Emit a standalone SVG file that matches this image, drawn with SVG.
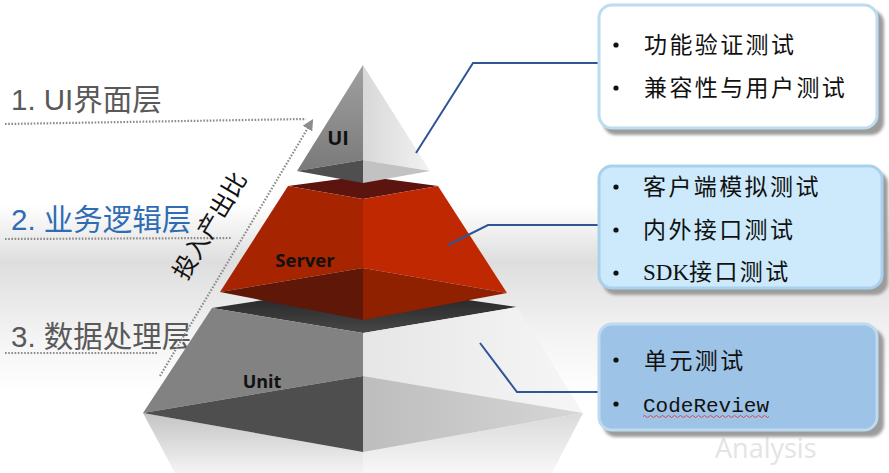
<svg xmlns="http://www.w3.org/2000/svg" width="889" height="473" viewBox="0 0 889 473">
<defs>
<linearGradient id="bg" x1="0" y1="0" x2="0" y2="1">
<stop offset="0" stop-color="#ffffff"/>
<stop offset="0.3" stop-color="#dedede"/>
<stop offset="0.7" stop-color="#f4f4f4"/>
<stop offset="1" stop-color="#ffffff"/>
</linearGradient>
<linearGradient id="uiL" x1="0" y1="0" x2="0" y2="1">
<stop offset="0" stop-color="#a0a0a0"/>
<stop offset="1" stop-color="#7a7a7a"/>
</linearGradient>
<linearGradient id="uiR" x1="0" y1="0" x2="1" y2="0">
<stop offset="0" stop-color="#d8d8d8"/>
<stop offset="1" stop-color="#f2f2f2"/>
</linearGradient>
<linearGradient id="unitTop" x1="0" y1="0" x2="0" y2="1">
<stop offset="0" stop-color="#1e1e1e"/>
<stop offset="1" stop-color="#474747"/>
</linearGradient>
<linearGradient id="unitR" x1="0" y1="0" x2="1" y2="0">
<stop offset="0" stop-color="#e6e6e6"/>
<stop offset="1" stop-color="#f6f6f6"/>
</linearGradient>
<linearGradient id="unitLR" x1="0" y1="0" x2="1" y2="0">
<stop offset="0" stop-color="#bdbdbd"/>
<stop offset="1" stop-color="#d6d6d6"/>
</linearGradient>
<linearGradient id="refL" x1="0" y1="0" x2="0" y2="1">
<stop offset="0" stop-color="#c4c4c4"/>
<stop offset="1" stop-color="#f4f4f4"/>
</linearGradient>
<linearGradient id="refR" x1="0" y1="0" x2="0" y2="1">
<stop offset="0" stop-color="#dadada"/>
<stop offset="1" stop-color="#f8f8f8"/>
</linearGradient>
<filter id="sh" x="-10%" y="-10%" width="130%" height="140%">
<feGaussianBlur stdDeviation="1.5"/>
</filter>
<marker id="arr" viewBox="0 0 10 10" refX="8" refY="5" markerWidth="5" markerHeight="5" orient="auto" markerUnits="strokeWidth">
<path d="M0,0 L10,5 L0,10 z" fill="#8c8c8c"/>
</marker>
</defs>
<style>
.dot{stroke:#8c8c8c;stroke-width:2.2;stroke-dasharray:1.6 1.6;fill:none}
.lbl{font-family:"Liberation Sans","Noto Sans CJK SC",sans-serif;font-size:29.5px}
.tier{font-family:"Open Sans","Liberation Sans",sans-serif;font-weight:bold;fill:#111}
.conn{stroke:#2f5597;stroke-width:2;fill:none}
.btxt{font-family:"Noto Sans CJK SC","Liberation Serif",serif;font-size:23px;fill:#111;letter-spacing:2.4px}
.bul{fill:#111}
.shadow{fill:#9c9c9c;filter:url(#sh)}
</style>
<rect x="0" y="0" width="889" height="473" fill="#ffffff"/>
<rect x="0" y="205" width="889" height="190" fill="url(#bg)"/>
<text x="715" y="458" font-family="'Open Sans','Liberation Sans',sans-serif" font-size="27" fill="#e4e4e4">Analysis</text>

<g id="labels">
<text class="lbl" x="11" y="110" fill="#595959">1. UI界面层</text>
<line class="dot" x1="5" y1="124" x2="306" y2="119"/>
<text class="lbl" x="11" y="230" fill="#2e6db4">2. 业务逻辑层</text>
<line class="dot" x1="5" y1="239" x2="232" y2="238"/>
<text class="lbl" x="11" y="347" fill="#595959">3. 数据处理层</text>
<line class="dot" x1="5" y1="353" x2="158" y2="353"/>
</g>

<g id="ratio">
<line class="dot" x1="160" y1="376" x2="312" y2="121" marker-end="url(#arr)"/>
<text transform="translate(217,230) rotate(-59.2)" text-anchor="middle" font-family="'Noto Sans CJK SC',sans-serif" font-size="24" fill="#111">投入产出比</text>
</g>

<g id="reflection">
<polygon points="143,413 363,452 363,473 175,473" fill="url(#refL)"/>
<polygon points="363,452 583,413 552,473 363,473" fill="url(#refR)"/>
</g>

<g id="unit">
<polygon points="212,308 363,285 517,307 363,333" fill="url(#unitTop)"/>
<polygon points="212,308 363,333 363,376 143,413" fill="#828282"/>
<polygon points="143,413 363,376 363,452" fill="#4e4e4e"/>
<polygon points="363,333 517,307 583,413 363,376" fill="url(#unitR)"/>
<polygon points="363,376 583,413 363,452" fill="url(#unitLR)"/>
<text class="tier" x="262" y="388" font-size="18" text-anchor="middle">Unit</text>
</g>

<g id="server">
<polygon points="288,186 363,176 438,186 363,199" fill="#5b140e"/>
<polygon points="288,186 363,199 363,268 220,292" fill="#a62400"/>
<polygon points="220,292 363,268 363,320" fill="#5f1708"/>
<polygon points="363,199 438,186 507,293 363,268" fill="#bf2800"/>
<polygon points="363,268 507,293 363,320" fill="#8f2000"/>
<text class="tier" x="305" y="267" font-size="18.5" text-anchor="middle">Server</text>
</g>

<g id="ui">
<polygon points="363,65 363,160 297,171" fill="url(#uiL)"/>
<polygon points="297,171 363,160 363,183" fill="#4f4f4f"/>
<polygon points="363,65 430,171 363,160" fill="url(#uiR)"/>
<polygon points="363,160 430,171 363,183" fill="#c2c2c2"/>
<text class="tier" x="338" y="145" font-size="20" text-anchor="middle">UI</text>
</g>

<g id="connectors">
<polyline class="conn" points="416,153 473,63 598,63"/>
<polyline class="conn" points="448,245 488,225 598,225"/>
<polyline class="conn" points="480,343 517,392 598,392"/>
</g>

<g id="box-ui">
<rect class="shadow" x="603" y="10" width="281" height="125" rx="13"/>
<rect x="599" y="5" width="278" height="123" rx="13" fill="#ffffff" stroke="#bcdcf0" stroke-width="3"/>
<circle class="bul" cx="616" cy="45" r="2.6"/>
<text class="btxt" x="644" y="53">功能验证测试</text>
<circle class="bul" cx="616" cy="88" r="2.6"/>
<text class="btxt" x="644" y="96">兼容性与用户测试</text>
</g>

<g id="box-server">
<rect class="shadow" x="603" y="171" width="285" height="124" rx="13"/>
<rect x="599" y="166" width="283" height="122" rx="13" fill="#cceafb" stroke="#a9d1ed" stroke-width="3"/>
<circle class="bul" cx="616" cy="187" r="2.6"/>
<text class="btxt" x="643" y="195">客户端模拟测试</text>
<circle class="bul" cx="616" cy="230" r="2.6"/>
<text class="btxt" x="643" y="238">内外接口测试</text>
<circle class="bul" cx="616" cy="273" r="2.6"/>
<text class="btxt" x="643" y="280"><tspan font-family="'Liberation Serif',serif" letter-spacing="0">SDK</tspan>接口测试</text>
</g>

<g id="box-unit">
<rect class="shadow" x="603" y="329" width="281" height="108" rx="13"/>
<rect x="599" y="324" width="278" height="106" rx="13" fill="#9dc3e6" stroke="#bddaf1" stroke-width="3"/>
<circle class="bul" cx="616" cy="360" r="2.6"/>
<text class="btxt" x="644" y="369">单元测试</text>
<circle class="bul" cx="616" cy="404" r="2.6"/>
<text x="643" y="412" font-family="'Liberation Mono',monospace" font-size="21" fill="#111">CodeReview</text>
<path d="M643,416.5 q1.5,-2 3,0 t3,0 t3,0 t3,0 t3,0 t3,0 t3,0 t3,0 t3,0 t3,0 t3,0 t3,0 t3,0 t3,0 t3,0 t3,0 t3,0 t3,0 t3,0 t3,0 t3,0 t3,0 t3,0 t3,0 t3,0 t3,0 t3,0 t3,0 t3,0 t3,0 t3,0 t3,0 t3,0 t3,0 t3,0 t3,0 t3,0 t3,0 t3,0 t3,0 t3,0 t3,0" fill="none" stroke="#e03c3c" stroke-width="0.9"/>
</g>
</svg>
